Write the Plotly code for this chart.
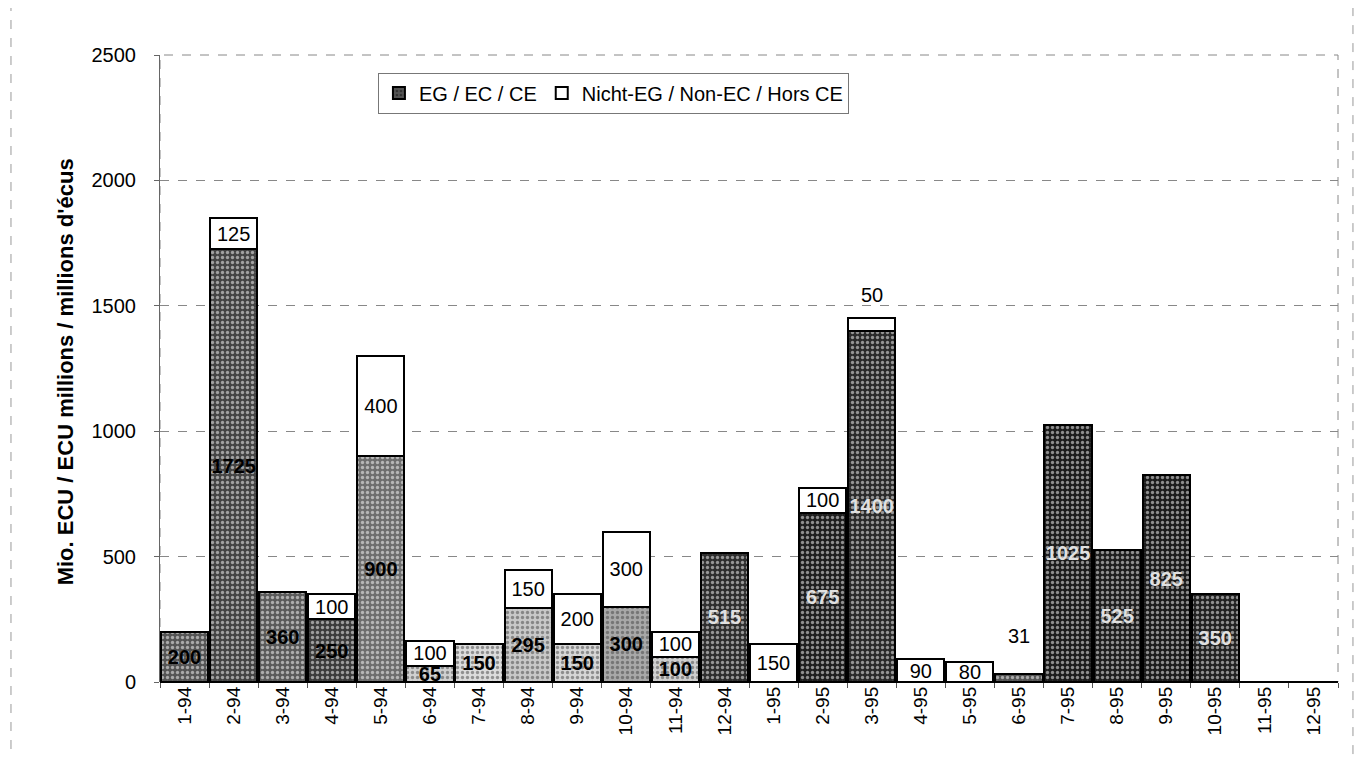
import plotly.graph_objects as go

categories = ["1-94", "2-94", "3-94", "4-94", "5-94", "6-94", "7-94", "8-94", "9-94", "10-94", "11-94", "12-94",
              "1-95", "2-95", "3-95", "4-95", "5-95", "6-95", "7-95", "8-95", "9-95", "10-95", "11-95", "12-95"]
ec_values = [200, 1725, 360, 250, 900, 65, 150, 295, 150, 300, 100, 515,
             None, 675, 1400, None, None, 31, 1025, 525, 825, 350, None, None]
non_ec_values = [None, 125, None, 100, 400, 100, None, 150, 200, 300, 100, None,
                 150, 100, 50, 90, 80, None, None, None, None, None, None, None]
# labels drawn above the bar instead of inside
outside_labels = {"3-95": "non", "6-95": "ec"}

# scan-like shading of the EC bars
ec_colors = ["#555555", "#444444", "#5a5a5a", "#3c3c3c", "#6e6e6e", "#d0d0d0", "#dcdcdc", "#c8c8c8",
             "#d6d6d6", "#a8a8a8", "#cfcfcf", "#2e2e2e", "#444444", "#1e1e1e", "#2a2a2a", "#444444",
             "#444444", "#555555", "#1c1c1c", "#1e1e1e", "#1c1c1c", "#222222", "#444444", "#444444"]
ec_text_colors = ["#000000"] * 11 + ["#e0e0e0"] * 13

FONT = "Liberation Sans, Arial"


def txt(vals, kind):
    out = []
    for c, v in zip(categories, vals):
        if v is None or outside_labels.get(c) == kind:
            out.append("")
        else:
            out.append(str(v))
    return out


fig = go.Figure()
fig.add_trace(go.Bar(
    x=categories, y=ec_values, name="EG / EC / CE",
    marker=dict(color=ec_colors, line=dict(color="#000", width=2),
                pattern=dict(shape=".", fgcolor="#111", size=5, solidity=0.35)),
    text=txt(ec_values, "ec"), textposition="inside", insidetextanchor="middle",
    constraintext="none", textangle=0, cliponaxis=False,
    textfont=dict(size=20, color=ec_text_colors, family=FONT, weight="bold"),
))
fig.add_trace(go.Bar(
    x=categories, y=non_ec_values, name="Nicht-EG / Non-EC / Hors CE",
    marker=dict(color="#ffffff", line=dict(color="#000", width=2)),
    text=txt(non_ec_values, "non"), textposition="inside", insidetextanchor="middle",
    constraintext="none", textangle=0, cliponaxis=False,
    textfont=dict(size=20, color="#000", family=FONT),
))

annotations = []
for i, c in enumerate(categories):
    kind = outside_labels.get(c)
    if kind is None:
        continue
    total = (ec_values[i] or 0) + (non_ec_values[i] or 0)
    val = ec_values[i] if kind == "ec" else non_ec_values[i]
    annotations.append(dict(x=c, y=total, text=str(val), showarrow=False, yanchor="bottom",
                            yshift=25 if kind == "ec" else 10,
                            font=dict(size=20, color="#000", family=FONT)))

annotations.append(dict(xref="paper", yref="paper", x=-0.0806, y=0.494, textangle=-90,
                        text="<b>Mio. ECU / ECU millions / millions d'écus</b>", showarrow=False,
                        xanchor="center", yanchor="middle", font=dict(size=22, family=FONT, color="#000")))

fig.update_layout(
    width=1347, height=747,
    margin=dict(l=152, r=17, t=47, b=73),
    paper_bgcolor="#ffffff", plot_bgcolor="#ffffff",
    barmode="stack", bargap=0.04,
    font=dict(family=FONT, size=19, color="#000"),
    annotations=annotations,
    legend=dict(orientation="h", x=0.185, y=0.972, xanchor="left", yanchor="top",
                bgcolor="#ffffff", bordercolor="#777", borderwidth=1,
                font=dict(size=20), traceorder="normal", itemwidth=30,
                tracegroupgap=0),
    showlegend=True,
    xaxis=dict(tickangle=-90, tickfont=dict(size=19), showgrid=False, automargin=False,
               ticks="outside", ticklen=5, tickcolor="#555", showline=False, tickson="boundaries"),
    yaxis=dict(range=[0, 2500], dtick=500, tickfont=dict(size=20), automargin=False,
               showgrid=True, gridcolor="#888", griddash="dash", gridwidth=1,
               showline=True, linecolor="#666", linewidth=1,
               ticks="outside", ticklen=5, tickcolor="#666", ticklabelstandoff=14,
               zeroline=True, zerolinecolor="#000", zerolinewidth=1.5),
    shapes=[
        dict(type="rect", xref="paper", yref="paper", x0=0, x1=1, y0=0, y1=1,
             line=dict(color="#888", width=1, dash="dash"), layer="below"),
        dict(type="rect", xref="paper", yref="paper", x0=-0.1265, x1=1.0127, y0=-0.3, y1=1.0797,
             line=dict(color="#999", width=1, dash="dash"), layer="below"),
    ],
)

fig.write_html("out.html")
